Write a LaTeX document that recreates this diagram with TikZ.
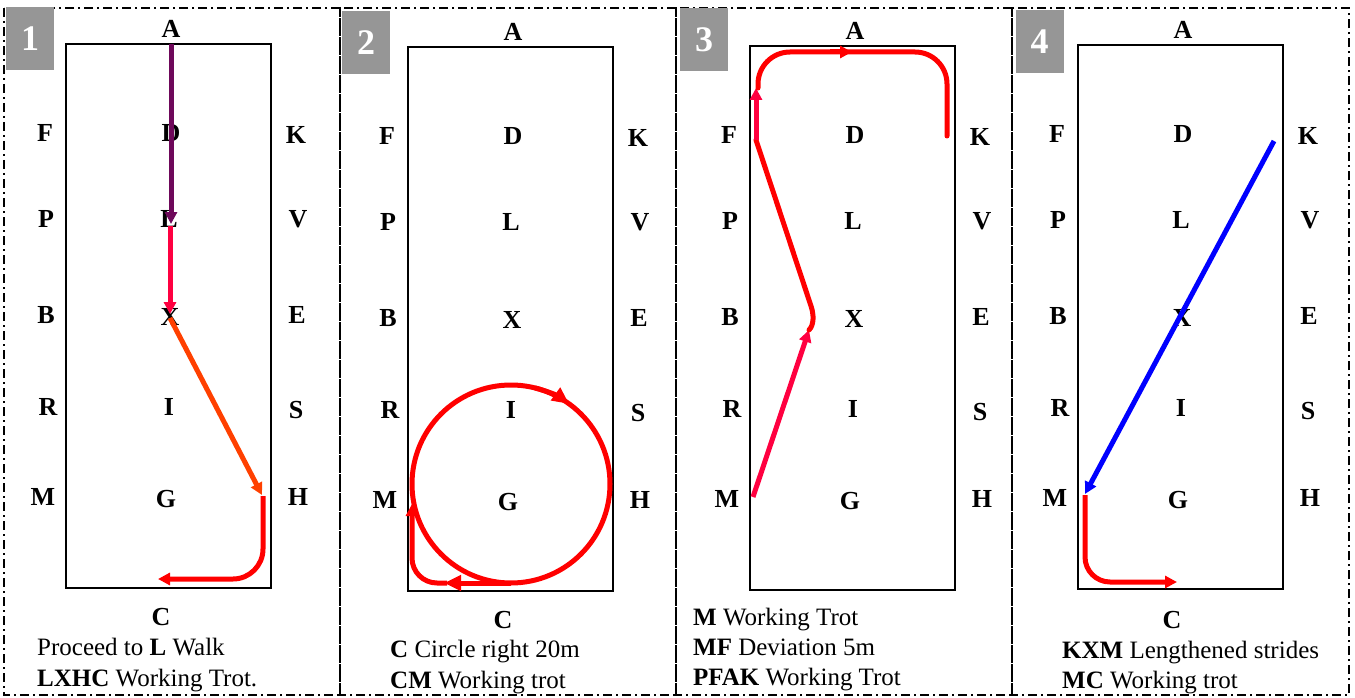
\documentclass[tikz,border=0pt]{standalone}
\usepackage{fontspec}
\setmainfont{Liberation Serif}
\usetikzlibrary{arrows.meta}
\definecolor{pathpurple}{RGB}{110,8,90}
\definecolor{pathpink}{RGB}{255,0,64}
\definecolor{pathorange}{RGB}{255,64,0}
\definecolor{pathred}{RGB}{255,0,0}
\definecolor{pathblue}{RGB}{0,0,255}
\definecolor{numgray}{RGB}{150,150,150}
\tikzset{
  panelborder/.style={line width=1.6pt, dash pattern=on 9pt off 4pt on 2pt off 4pt},
  arenabox/.style={line width=1.6pt},
  mk/.style={inner sep=0pt, font=\fontsize{26}{28}\selectfont\bfseries},
  numbox/.style={fill=numgray, text=white, inner sep=0pt, minimum width=48pt, minimum height=63pt, font=\fontsize{36}{38}\selectfont\bfseries},
  desc/.style={anchor=base west, inner sep=0pt, font=\fontsize{25}{30}\selectfont},
  trail/.style={line width=5pt},
  arrowend/.style={-{Triangle[length=12pt,width=12pt]}},
  bigarrowend/.style={-{Triangle[length=17pt,width=15pt]}}
}
\newcommand\arena[3]{%
\begin{scope}[shift={(#2,#3)}]
 \draw[arenabox] (408,47) rectangle (613,591);
 \node[mk] (#1A) at (513,32) {A};
 \node[mk] (#1F) at (387,136) {F};
 \node[mk] (#1D) at (513,136) {D};
 \node[mk] (#1K) at (638,138) {K};
 \node[mk] (#1P) at (388,222) {P};
 \node[mk] (#1L) at (511,222) {L};
 \node[mk] (#1V) at (640,222) {V};
 \node[mk] (#1B) at (388,318) {B};
 \node[mk] (#1X) at (512,320) {X};
 \node[mk] (#1E) at (639,318) {E};
 \node[mk] (#1R) at (390,410) {R};
 \node[mk] (#1I) at (511,410) {I};
 \node[mk] (#1S) at (638,413) {S};
 \node[mk] (#1M) at (385,500) {M};
 \node[mk] (#1G) at (508,502) {G};
 \node[mk] (#1H) at (640,500) {H};
\end{scope}}
\begin{document}
\begin{tikzpicture}[x=1pt,y=-1pt]
\useasboundingbox (0,0) rectangle (1355,698);
% panels
\draw[panelborder] (4,8) rectangle (340,695);
\draw[panelborder] (340,8) rectangle (676,695);
\draw[panelborder] (676,8) rectangle (1012,695);
\draw[panelborder] (1012,8) rectangle (1349,695);
% number boxes
\node[numbox] (n1) at (30,38.5) {1};
\node[numbox] (n2) at (366,43) {2};
\node[numbox] (n3) at (704,40) {3};
\node[numbox] (n4) at (1039.5,41.5) {4};
% arenas
\arena{p1}{-342}{-3}
\arena{p2}{0}{0}
\arena{p3}{342}{-1}
\arena{p4}{670}{-2}
\node[mk] (p1C) at (161,617) {C};
\node[mk] (p2C) at (503,620) {C};
\node[mk] (p4C) at (1172,620) {C};
% descriptions
\node[desc] (t11) at (37,655) {Proceed to \textbf{L} Walk};
\node[desc] (t12) at (37,686) {\textbf{LXHC} Working Trot.};
\node[desc] (t21) at (390,657) {\textbf{C} Circle right 20m};
\node[desc] (t22) at (390,688) {\textbf{CM} Working trot};
\node[desc] (t31) at (693,625) {\textbf{M} Working Trot};
\node[desc] (t32) at (693,655) {\textbf{MF} Deviation 5m};
\node[desc] (t33) at (693,685) {\textbf{PFAK} Working Trot};
\node[desc] (t41) at (1062,658) {\textbf{KXM} Lengthened strides};
\node[desc] (t42) at (1062,688) {\textbf{MC} Working trot};
% panel 1 route
\coordinate (q1a) at (171,44);
\coordinate (q1b) at (171,224);
\coordinate (q1c) at (170,226);
\coordinate (q1d) at (170,314);
\coordinate (q1e) at (170,318);
\coordinate (q1f) at (262,495);
\coordinate (q1g) at (263,496);
\coordinate (q1h) at (263,579);
\coordinate (q1i) at (158,579);
\draw[trail,pathpurple,arrowend] (q1a) -- (q1b);
\draw[trail,pathpink,arrowend] (q1c) -- (q1d);
\draw[trail,pathorange,arrowend] (q1e) -- (q1f);
\draw[trail,pathred,arrowend,rounded corners=30pt] (q1g) -- (q1h) -- (q1i);
% panel 2 route
\coordinate (q2o) at (511,484);
\draw[trail,pathred] (q2o) circle[radius=99];
\draw[trail,pathred,bigarrowend] ([shift={(-76:99)}]q2o) arc[start angle=-76,end angle=-54,radius=99];
\coordinate (q2a) at (511,583);
\coordinate (q2b) at (444,583);
\coordinate (q2c) at (447,583);
\coordinate (q2d) at (412,583);
\coordinate (q2e) at (412,504);
\draw[trail,pathred,bigarrowend] (q2a) -- (q2b);
\draw[trail,pathred,arrowend,rounded corners=25pt] (q2c) -- (q2d) -- (q2e);
% panel 3 route
\coordinate (q3a) at (753,497);
\coordinate (q3b) at (809,330);
\coordinate (q3c) at (811,306);
\coordinate (q3d) at (756,140);
\coordinate (q3e) at (756,88);
\coordinate (q3f) at (758,88);
\coordinate (q3g) at (758,52);
\coordinate (q3h) at (947,52);
\coordinate (q3i) at (947,136);
\coordinate (q3j) at (830,52);
\coordinate (q3k) at (852,52);
\draw[trail,pathpink,arrowend] (q3a) -- (q3b);
\draw[trail,pathred,line cap=round] (q3b) .. controls (814,325) and (814,315) .. (q3c) -- (q3d);
\draw[trail,pathpink,arrowend] (q3d) -- (q3e);
\draw[trail,pathred,rounded corners=32pt,line cap=round] (q3f) -- (q3g) -- (q3h) -- (q3i);
\draw[trail,pathred,arrowend] (q3j) -- (q3k);
% panel 4 route
\coordinate (q4a) at (1274,141);
\coordinate (q4b) at (1085,494);
\coordinate (q4c) at (1085,495);
\coordinate (q4d) at (1085,582);
\coordinate (q4e) at (1177,582);
\draw[trail,pathblue,arrowend] (q4a) -- (q4b);
\draw[trail,pathred,arrowend,rounded corners=25pt] (q4c) -- (q4d) -- (q4e);
\end{tikzpicture}
\end{document}
